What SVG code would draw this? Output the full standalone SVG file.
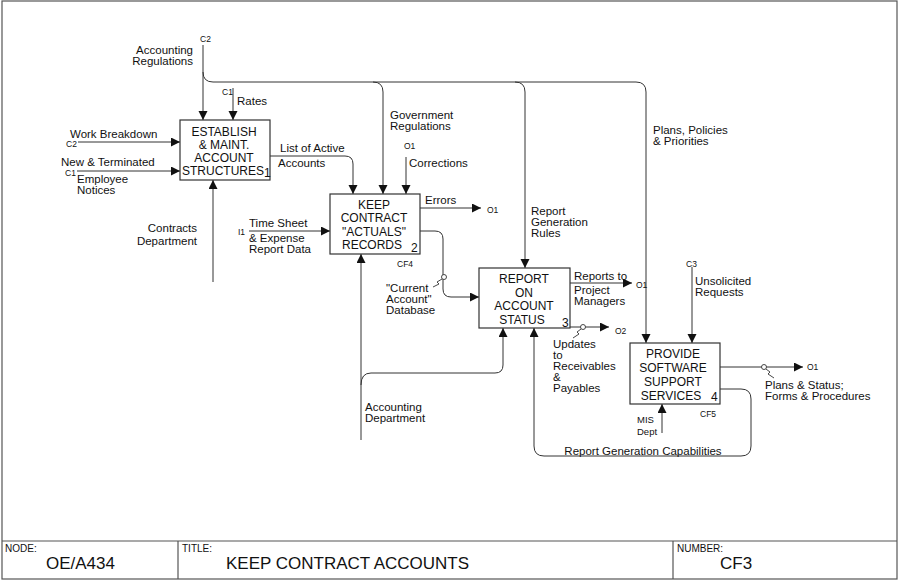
<svg xmlns="http://www.w3.org/2000/svg" width="900" height="581" viewBox="0 0 900 581">
<style>
text{font-family:"Liberation Sans",Arial,sans-serif;fill:#111}
.l{font-size:11.5px}
.s{font-size:8.5px}
.b{font-size:12px;text-anchor:middle}
.n{font-size:12px}
.ln{fill:none;stroke:#333;stroke-width:1}
.box{fill:#fff;stroke:#333;stroke-width:1.2}
.fr{fill:none;stroke:#555;stroke-width:1.2}
.tn{fill:#fff;stroke:#333;stroke-width:0.9}
.sq{fill:none;stroke:#333;stroke-width:0.9}
</style>
<defs>
<marker id="ah" markerUnits="userSpaceOnUse" markerWidth="10" markerHeight="10" refX="9" refY="4.5" orient="auto">
<path d="M0,0 L9,4.5 L0,9 Z" fill="#111"/>
</marker>
</defs>
<rect id="frame" class="fr" x="2" y="1" width="895" height="578"/>
<g id="titleblock">
<line class="fr" x1="2" y1="541" x2="897" y2="541"/>
<line class="fr" x1="178" y1="541" x2="178" y2="579"/>
<line class="fr" x1="673" y1="541" x2="673" y2="579"/>
<text x="5" y="552" font-size="10">NODE:</text>
<text x="46" y="569" font-size="17">OE/A434</text>
<text x="182" y="552" font-size="10">TITLE:</text>
<text x="226" y="569" font-size="17">KEEP CONTRACT ACCOUNTS</text>
<text x="677" y="552" font-size="10">NUMBER:</text>
<text x="720" y="569" font-size="17">CF3</text>
</g>
<g id="connectors">
<path class="ln" d="M203,45 V120" marker-end="url(#ah)"/>
<path class="ln" d="M203,72 Q203,82 213,82 H636 Q646,82 646,92 V343" marker-end="url(#ah)"/>
<path class="ln" d="M373,82 Q383,82 383,92 V194" marker-end="url(#ah)"/>
<path class="ln" d="M515,82 Q525,82 525,92 V268" marker-end="url(#ah)"/>
<path class="ln" d="M233,88 V120" marker-end="url(#ah)"/>
<path class="ln" d="M78,142 H180" marker-end="url(#ah)"/>
<path class="ln" d="M77,171 H180" marker-end="url(#ah)"/>
<path class="ln" d="M213,282 V180" marker-end="url(#ah)"/>
<path class="ln" d="M270,156 H345 Q353,156 353,164 V194" marker-end="url(#ah)"/>
<path class="ln" d="M406,157 V194" marker-end="url(#ah)"/>
<path class="ln" d="M249,231 H330" marker-end="url(#ah)"/>
<path class="ln" d="M420,208 H481" marker-end="url(#ah)"/>
<path class="ln" d="M420,231 H435 Q443,231 443,239 V289 Q443,297 451,297 H479" marker-end="url(#ah)"/>
<path class="ln" d="M361,440 V254" marker-end="url(#ah)"/>
<path class="ln" d="M361,385 Q361,373 371,373 H495 Q503,373 503,365 V328" marker-end="url(#ah)"/>
<path class="ln" d="M570,283 H632" marker-end="url(#ah)"/>
<path class="ln" d="M570,327 H609" marker-end="url(#ah)"/>
<path class="ln" d="M720,367 H803" marker-end="url(#ah)"/>
<path class="ln" d="M692,267 V343" marker-end="url(#ah)"/>
<path class="ln" d="M662,433 V404" marker-end="url(#ah)"/>
<path class="ln" d="M720,389 H741 Q751,389 751,399 V446 Q751,456 741,456 H544 Q534,456 534,446 V328" marker-end="url(#ah)"/>
<circle class="tn" cx="444" cy="277" r="2.5"/>
<path class="sq" d="M442,279 L437,282 L439,284 L433,287"/>
<circle class="tn" cx="583" cy="327" r="2.5"/>
<path class="sq" d="M581,329 L577,332 L579,334 L573,338"/>
<circle class="tn" cx="764" cy="367" r="2.5"/>
<path class="sq" d="M766,369 L770,372 L768,374 L774,378"/>
</g>
<g id="labels">
<text class="s" x="200" y="42">C2</text>
<text class="l" x="193" y="54" text-anchor="end">Accounting</text>
<text class="l" x="193" y="65" text-anchor="end">Regulations</text>
<text class="s" x="222" y="95">C1</text>
<text class="l" x="237" y="105">Rates</text>
<text class="l" x="70" y="138">Work Breakdown</text>
<text class="s" x="66" y="147">C2</text>
<text class="l" x="61" y="166">New &amp; Terminated</text>
<text class="s" x="65" y="176">C1</text>
<text class="l" x="77" y="183">Employee</text>
<text class="l" x="77" y="194">Notices</text>
<text class="l" x="197" y="232" text-anchor="end">Contracts</text>
<text class="l" x="197" y="245" text-anchor="end">Department</text>
<text class="l" x="280" y="152">List of Active</text>
<text class="l" x="278" y="167">Accounts</text>
<text class="l" x="390" y="119">Government</text>
<text class="l" x="390" y="130">Regulations</text>
<text class="s" x="404" y="149">O1</text>
<text class="l" x="409" y="167">Corrections</text>
<text class="l" x="425" y="204">Errors</text>
<text class="s" x="487" y="213">O1</text>
<text class="s" x="238" y="235">I1</text>
<text class="l" x="249" y="227">Time Sheet</text>
<text class="l" x="249" y="242">&amp; Expense</text>
<text class="l" x="249" y="253">Report Data</text>
<text class="s" x="397" y="267">CF4</text>
<text class="l" x="386" y="292">"Current</text>
<text class="l" x="386" y="303">Account"</text>
<text class="l" x="386" y="314">Database</text>
<text class="l" x="531" y="215">Report</text>
<text class="l" x="531" y="226">Generation</text>
<text class="l" x="531" y="237">Rules</text>
<text class="l" x="653" y="134">Plans, Policies</text>
<text class="l" x="653" y="145">&amp; Priorities</text>
<text class="l" x="574" y="280">Reports to</text>
<text class="l" x="574" y="294">Project</text>
<text class="l" x="574" y="305">Managers</text>
<text class="s" x="636" y="288">O1</text>
<text class="s" x="615" y="334">O2</text>
<text class="l" x="553" y="348">Updates</text>
<text class="l" x="553" y="359">to</text>
<text class="l" x="553" y="370">Receivables</text>
<text class="l" x="553" y="381">&amp;</text>
<text class="l" x="553" y="392">Payables</text>
<text class="s" x="686" y="267">C3</text>
<text class="l" x="695" y="285">Unsolicited</text>
<text class="l" x="695" y="296">Requests</text>
<text class="s" x="807" y="370">O1</text>
<text class="l" x="765" y="389">Plans &amp; Status;</text>
<text class="l" x="765" y="400">Forms &amp; Procedures</text>
<text x="637" y="423" font-size="9.5">MIS</text>
<text x="637" y="435" font-size="9.5">Dept</text>
<text class="s" x="700" y="417">CF5</text>
<text class="l" x="643" y="455" text-anchor="middle">Report Generation Capabilities</text>
<text class="l" x="365" y="411">Accounting</text>
<text class="l" x="365" y="422">Department</text>
</g>
<g id="node1">
<rect class="box" x="180" y="120" width="90" height="60"/>
<text class="b" x="224" y="136">ESTABLISH</text>
<text class="b" x="224" y="149">&amp; MAINT.</text>
<text class="b" x="224" y="162">ACCOUNT</text>
<text class="b" x="223" y="175">STRUCTURES</text>
<text class="n" x="264" y="177">1</text>
</g>
<g id="node2">
<rect class="box" x="330" y="194" width="90" height="60"/>
<text class="b" x="374" y="209">KEEP</text>
<text class="b" x="374" y="222">CONTRACT</text>
<text class="b" x="374" y="236">"ACTUALS"</text>
<text class="b" x="372" y="249">RECORDS</text>
<text class="n" x="411" y="252">2</text>
</g>
<g id="node3">
<rect class="box" x="479" y="268" width="91" height="60"/>
<text class="b" x="524" y="283">REPORT</text>
<text class="b" x="524" y="297">ON</text>
<text class="b" x="524" y="310">ACCOUNT</text>
<text class="b" x="522" y="324">STATUS</text>
<text class="n" x="562" y="327">3</text>
</g>
<g id="node4">
<rect class="box" x="630" y="343" width="90" height="61"/>
<text class="b" x="673" y="358">PROVIDE</text>
<text class="b" x="673" y="372">SOFTWARE</text>
<text class="b" x="673" y="386">SUPPORT</text>
<text class="b" x="671" y="400">SERVICES</text>
<text class="n" x="711" y="401">4</text>
</g>
</svg>
